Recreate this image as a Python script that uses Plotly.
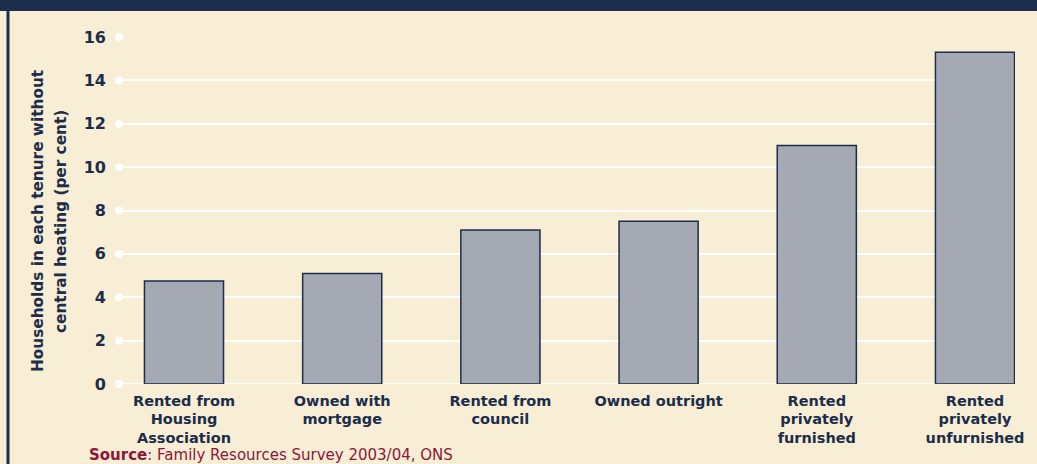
import plotly.graph_objects as go

categories = ["Rented from<br>Housing<br>Association", "Owned with<br>mortgage", "Rented from<br>council",
              "Owned outright", "Rented<br>privately<br>furnished", "Rented<br>privately<br>unfurnished"]
values = [4.75, 5.1, 7.1, 7.5, 11.0, 15.3]
y_ticks = [0, 2, 4, 6, 8, 10, 12, 14, 16]
y_title = ["Households in each tenure without", "central heating (per cent)"]
source_label = "Source"
source_text = ": Family Resources Survey 2003/04, ONS"

NAVY = "#1B2D4A"
CREAM = "#F8EED5"
BAR = "#A4A9B3"
RED = "#8E1535"
FONT = "DejaVu Sans"

W, H = 1037, 464
L, R, T, B = 119, 22, 37, 80
PW, PH = W - L - R, H - T - B
x_pos = list(range(len(categories)))
xr = [(119 - 184) / 158.2, (1015 - 184) / 158.2]


def px_x(p):
    return (p - L) / PW


def px_y(p):
    return (H - B - p) / PH


fig = go.Figure()
fig.add_trace(go.Bar(x=x_pos, y=values, width=0.5, marker=dict(color=BAR, line=dict(color=NAVY, width=1.5)),
                     hoverinfo="skip"))
fig.add_trace(go.Scatter(x=[xr[0]] * len(y_ticks), y=y_ticks, mode="markers",
                         marker=dict(color="white", size=8), cliponaxis=False, hoverinfo="skip"))

fig.update_layout(
    width=W, height=H, showlegend=False,
    margin=dict(l=L, r=R, t=T, b=B),
    paper_bgcolor=CREAM, plot_bgcolor=CREAM,
    font=dict(family=FONT, color=NAVY),
    xaxis=dict(range=xr, tickvals=x_pos, ticktext=categories, showgrid=False, zeroline=False,
               showline=False, ticks="", tickfont=dict(size=14.5, family=FONT, color=NAVY, weight="bold"),
               ticklabelstandoff=6),
    yaxis=dict(range=[0, 16], tickvals=y_ticks, showgrid=True, gridcolor="white", gridwidth=2,
               zeroline=False, showline=False, ticks="",
               tickfont=dict(size=16, family=FONT, color=NAVY, weight="bold"), ticklabelstandoff=12),
    shapes=[
        dict(type="rect", xref="paper", yref="paper", x0=px_x(0), x1=px_x(W),
             y0=px_y(11), y1=px_y(0), fillcolor=NAVY, line=dict(width=0), layer="above"),
        dict(type="line", xref="paper", yref="paper", x0=px_x(8), x1=px_x(8),
             y0=px_y(H), y1=px_y(0), line=dict(color=NAVY, width=3)),
        dict(type="line", xref="x", yref="y", x0=xr[0], x1=xr[1], y0=0, y1=0, line=dict(color="white", width=2), layer="below"),
    ],
    annotations=[
        dict(text=y_title[0], textangle=-90, xref="paper", yref="paper", x=px_x(38), y=px_y(221),
             xanchor="center", yanchor="middle", showarrow=False,
             font=dict(size=15.3, family=FONT, color=NAVY, weight="bold")),
        dict(text=y_title[1], textangle=-90, xref="paper", yref="paper", x=px_x(61), y=px_y(221),
             xanchor="center", yanchor="middle", showarrow=False,
             font=dict(size=15.3, family=FONT, color=NAVY, weight="bold")),
        dict(text="<b>" + source_label + "</b>" + source_text,
             xref="paper", yref="paper", x=px_x(87), y=px_y(455),
             xanchor="left", yanchor="middle", showarrow=False,
             font=dict(size=15, family=FONT, color=RED)),
    ],
)
fig.write_html("out.html", config={"displayModeBar": False},
               post_script="document.body.style.margin='0';")
